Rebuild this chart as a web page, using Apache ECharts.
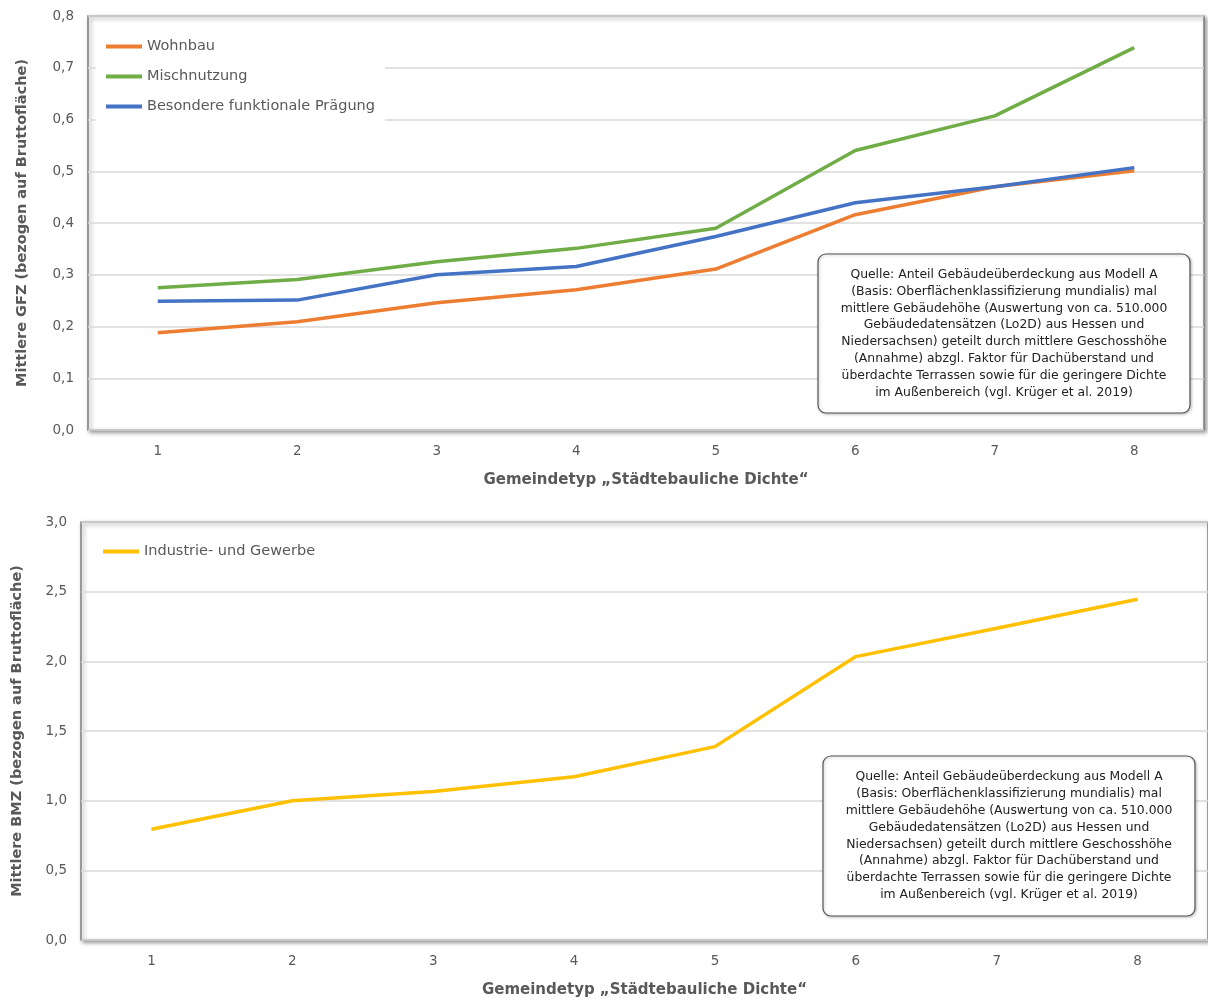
<!DOCTYPE html>
<html>
<head>
<meta charset="utf-8">
<script src="https://cdn.jsdelivr.net/npm/echarts@6/dist/echarts.min.js"></script>
<style>
html,body{margin:0;padding:0;background:#fff;}
#c{width:1208px;height:1002px;}
</style>
</head>
<body>
<div id="c"></div>
<script>
// ---- Data ----
var categories = ['1', '2', '3', '4', '5', '6', '7', '8'];
var wohnbau = [0.188, 0.209, 0.246, 0.271, 0.311, 0.416, 0.470, 0.501];
var mischnutzung = [0.275, 0.291, 0.325, 0.351, 0.390, 0.540, 0.607, 0.739];
var besondere = [0.249, 0.251, 0.300, 0.316, 0.374, 0.439, 0.470, 0.507];
var industrie = [0.795, 1.000, 1.065, 1.172, 1.388, 2.034, 2.237, 2.446];

var xTitle = 'Gemeindetyp \u201EStädtebauliche Dichte\u201C';
var yTitleTop = 'Mittlere GFZ (bezogen auf Bruttofläche)';
var yTitleBottom = 'Mittlere BMZ (bezogen auf Bruttofläche)';
var sourceText = [
  'Quelle: Anteil Gebäudeüberdeckung aus Modell A',
  '(Basis: Oberflächenklassifizierung mundialis) mal',
  'mittlere Gebäudehöhe (Auswertung von ca. 510.000',
  'Gebäudedatensätzen (Lo2D) aus Hessen und',
  'Niedersachsen) geteilt durch mittlere Geschosshöhe',
  '(Annahme) abzgl. Faktor für Dachüberstand und',
  'überdachte Terrassen sowie für die geringere Dichte',
  'im Außenbereich (vgl. Krüger et al. 2019)'
].join('\n');

var FONT = '"DejaVu Sans", Verdana, sans-serif';
var GREY = '#595959';

function fmt(v) { return v.toFixed(1).replace('.', ','); }

function xAxis(gi) {
  return {
    type: 'category', gridIndex: gi, data: categories, boundaryGap: true,
    axisLine: { show: false }, axisTick: { show: false },
    axisLabel: { color: GREY, fontSize: 13.5, fontFamily: FONT, margin: 14 },
    name: xTitle, nameLocation: 'middle', nameGap: 43,
    nameTextStyle: { color: GREY, fontSize: 15, fontWeight: 'bold', fontFamily: FONT }
  };
}
function yAxis(gi, max, interval, name, gap) {
  return {
    type: 'value', gridIndex: gi, min: 0, max: max, interval: interval,
    axisLine: { show: false }, axisTick: { show: false },
    axisLabel: { color: GREY, fontSize: 13.5, fontFamily: FONT, margin: 14, formatter: fmt },
    splitLine: { lineStyle: { color: '#d9d9d9', width: 1.5 } },
    name: name, nameLocation: 'middle', nameGap: gap, nameRotate: 90,
    nameTextStyle: { color: GREY, fontSize: 14.5, fontWeight: 'bold', fontFamily: FONT }
  };
}
function gridBox(left, top, right, height) {
  return {
    left: left, top: top, right: right, height: height, show: true,
    backgroundColor: '#fff', borderColor: '#7f7f7f', borderWidth: 1.5,
    shadowColor: 'rgba(0,0,0,0.4)', shadowBlur: 4, shadowOffsetX: 2, shadowOffsetY: 2
  };
}
function line(name, data, color, xi, yi) {
  return {
    name: name, type: 'line', data: data, xAxisIndex: xi, yAxisIndex: yi,
    symbol: 'none', smooth: false, color: color,
    lineStyle: { color: color, width: 3.5 }, itemStyle: { color: color },
    emphasis: { disabled: true }, z: 3
  };
}
function sourceBox(x, y, w, h) {
  return {
    type: 'group', z: 100, zlevel: 1,
    children: [
      { type: 'rect', z: 100, zlevel: 1, shape: { x: x, y: y, width: w, height: h, r: 8 },
        style: { fill: '#ffffff', stroke: '#555', lineWidth: 1.2,
                 shadowColor: 'rgba(0,0,0,0.25)', shadowBlur: 3, shadowOffsetX: 1, shadowOffsetY: 1 } },
      { type: 'text', z: 101, zlevel: 1, x: x + w / 2, y: y + h / 2,
        style: { text: sourceText, textAlign: 'center', textVerticalAlign: 'middle',
                 font: '12.4px "DejaVu Sans", Verdana, sans-serif', fill: '#222', lineHeight: 16.8 } }
    ]
  };
}

var legendCommon = {
  orient: 'vertical', icon: 'rect', itemWidth: 36, itemHeight: 4, itemGap: 13,
  backgroundColor: '#fff', padding: [8, 10],
  textStyle: { color: GREY, fontSize: 14.5, fontFamily: FONT, lineHeight: 17 },
  selectedMode: false
};

var chart = echarts.init(document.getElementById('c'), null, { renderer: 'canvas' });
chart.setOption({
  animation: false,
  backgroundColor: '#fff',
  grid: [gridBox(88, 16, 4, 414), gridBox(81, 522, -4, 418)],
  xAxis: [xAxis(0), xAxis(1)],
  yAxis: [yAxis(0, 0.8, 0.1, yTitleTop, 58), yAxis(1, 3.0, 0.5, yTitleBottom, 56)],
  legend: [
    Object.assign({}, legendCommon, { left: 96, top: 30, data: ['Wohnbau', 'Mischnutzung', 'Besondere funktionale Prägung'] }),
    Object.assign({}, legendCommon, { left: 93, top: 535, data: ['Industrie- und Gewerbe'] })
  ],
  series: [
    line('Wohnbau', wohnbau, '#ED7D31', 0, 0),
    line('Mischnutzung', mischnutzung, '#70AD47', 0, 0),
    line('Besondere funktionale Prägung', besondere, '#4472C4', 0, 0),
    line('Industrie- und Gewerbe', industrie, '#FFC000', 1, 1)
  ],
  graphic: [sourceBox(818, 254, 372, 159), sourceBox(823, 756, 372, 160)]
});
</script>
</body>
</html>
